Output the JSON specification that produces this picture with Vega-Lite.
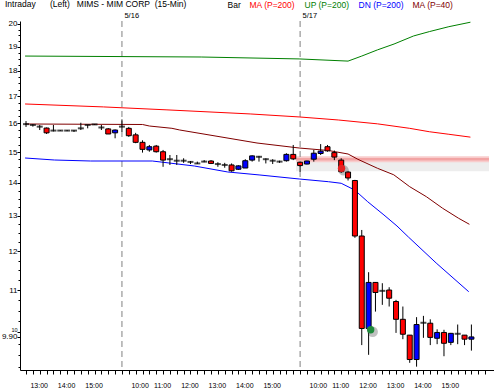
{
  "$schema": "https://vega.github.io/schema/vega-lite/v6.json",
  "width": 474,
  "height": 349,
  "autosize": "none",
  "padding": {"left": 20, "top": 21, "right": 0, "bottom": 21},
  "background": "white",
  "config": {
    "view": {"stroke": null},
    "font": "Liberation Sans",
    "axis": {"grid": false, "domainColor": "black", "tickColor": "black", "labelColor": "black", "labelFont": "Liberation Sans"}
  },
  "title": {
    "text": "Intraday\u00a0\u00a0\u00a0\u00a0\u00a0\u00a0(Left)\u00a0\u00a0\u00a0MIMS - MIM CORP\u00a0\u00a0(15-Min)",
    "anchor": "start",
    "frame": "group",
    "dx": -15,
    "dy": 10,
    "offset": 3,
    "fontSize": 8.5,
    "fontWeight": "normal",
    "font": "Liberation Sans",
    "color": "black"
  },
  "datasets": {
    "candles": [
      {"k":0,"open":15.97,"high":16.08,"low":15.87,"close":15.97},
      {"k":1,"open":15.94,"high":15.97,"low":15.88,"close":15.94},
      {"k":2,"open":15.88,"high":15.94,"low":15.76,"close":15.88},
      {"k":3,"open":15.83,"high":15.85,"low":15.62,"close":15.66},
      {"k":4,"open":15.74,"high":15.94,"low":15.71,"close":15.74},
      {"k":5,"open":15.74,"high":15.76,"low":15.73,"close":15.74},
      {"k":6,"open":15.74,"high":15.76,"low":15.72,"close":15.74},
      {"k":7,"open":15.74,"high":15.76,"low":15.69,"close":15.74},
      {"k":8,"open":15.82,"high":16.02,"low":15.76,"close":15.82},
      {"k":9,"open":15.94,"high":15.94,"low":15.82,"close":15.94},
      {"k":10,"open":15.96,"high":15.97,"low":15.94,"close":15.96},
      {"k":11,"open":15.85,"high":15.94,"low":15.76,"close":15.85},
      {"k":12,"open":15.80,"high":15.83,"low":15.62,"close":15.62},
      {"k":13,"open":15.66,"high":15.78,"low":15.47,"close":15.76},
      {"k":14,"open":15.88,"high":16.14,"low":15.70,"close":15.88},
      {"k":15,"open":15.82,"high":15.87,"low":15.52,"close":15.56},
      {"k":16,"open":15.59,"high":15.66,"low":15.30,"close":15.33},
      {"k":17,"open":15.33,"high":15.40,"low":14.98,"close":15.09},
      {"k":18,"open":15.07,"high":15.24,"low":15.01,"close":15.18},
      {"k":19,"open":15.20,"high":15.24,"low":14.98,"close":15.01},
      {"k":20,"open":15.01,"high":15.07,"low":14.51,"close":14.73},
      {"k":21,"open":14.76,"high":14.90,"low":14.57,"close":14.76},
      {"k":22,"open":14.71,"high":14.90,"low":14.57,"close":14.71},
      {"k":23,"open":14.71,"high":14.79,"low":14.64,"close":14.71},
      {"k":24,"open":14.67,"high":14.70,"low":14.60,"close":14.67},
      {"k":25,"open":14.62,"high":14.68,"low":14.60,"close":14.62},
      {"k":26,"open":14.68,"high":14.73,"low":14.66,"close":14.68},
      {"k":27,"open":14.70,"high":14.73,"low":14.60,"close":14.62},
      {"k":28,"open":14.60,"high":14.66,"low":14.51,"close":14.60},
      {"k":29,"open":14.57,"high":14.64,"low":14.48,"close":14.57},
      {"k":30,"open":14.57,"high":14.62,"low":14.35,"close":14.38},
      {"k":31,"open":14.43,"high":14.56,"low":14.41,"close":14.54},
      {"k":32,"open":14.47,"high":14.76,"low":14.47,"close":14.71},
      {"k":33,"open":14.73,"high":14.89,"low":14.68,"close":14.87},
      {"k":34,"open":14.84,"high":14.87,"low":14.68,"close":14.84},
      {"k":35,"open":14.76,"high":14.79,"low":14.62,"close":14.76},
      {"k":36,"open":14.71,"high":14.76,"low":14.60,"close":14.71},
      {"k":37,"open":14.68,"high":14.71,"low":14.64,"close":14.68},
      {"k":38,"open":14.71,"high":14.96,"low":14.68,"close":14.92},
      {"k":39,"open":14.92,"high":15.24,"low":14.73,"close":14.77},
      {"k":40,"open":14.66,"high":14.67,"low":14.35,"close":14.55},
      {"k":41,"open":14.60,"high":14.71,"low":14.59,"close":14.70},
      {"k":42,"open":14.76,"high":15.07,"low":14.68,"close":14.96},
      {"k":43,"open":14.95,"high":15.27,"low":14.90,"close":15.03},
      {"k":44,"open":15.18,"high":15.24,"low":15.01,"close":15.04},
      {"k":45,"open":14.98,"high":15.05,"low":14.73,"close":14.83},
      {"k":46,"open":14.73,"high":14.79,"low":14.31,"close":14.35},
      {"k":47,"open":14.34,"high":14.37,"low":14.07,"close":14.15},
      {"k":48,"open":14.07,"high":14.09,"low":12.37,"close":12.42},
      {"k":49,"open":12.42,"high":12.59,"low":9.72,"close":10.09},
      {"k":50,"open":10.09,"high":11.45,"low":9.51,"close":11.19},
      {"k":51,"open":11.19,"high":11.20,"low":10.48,"close":10.94},
      {"k":52,"open":10.98,"high":11.17,"low":10.64,"close":10.98},
      {"k":53,"open":11.00,"high":11.07,"low":10.60,"close":10.80},
      {"k":54,"open":10.72,"high":10.76,"low":9.99,"close":10.30},
      {"k":55,"open":10.30,"high":10.60,"low":9.85,"close":9.96},
      {"k":56,"open":9.94,"high":9.94,"low":9.34,"close":9.41},
      {"k":57,"open":9.41,"high":10.35,"low":9.26,"close":10.18},
      {"k":58,"open":10.22,"high":10.38,"low":9.88,"close":10.22},
      {"k":59,"open":10.21,"high":10.30,"low":9.72,"close":9.89},
      {"k":60,"open":9.87,"high":10.07,"low":9.74,"close":10.00},
      {"k":61,"open":10.00,"high":10.06,"low":9.48,"close":9.76},
      {"k":62,"open":9.78,"high":9.99,"low":9.72,"close":9.98},
      {"k":63,"open":9.97,"high":10.18,"low":9.74,"close":9.97},
      {"k":64,"open":9.94,"high":9.94,"low":9.72,"close":9.85},
      {"k":65,"open":9.85,"high":10.18,"low":9.60,"close":9.90}
    ],
    "lines": [
      {"series":"UP (P=200)","k":-0.14,"price":18.61},
      {"series":"UP (P=200)","k":25.57,"price":18.57},
      {"series":"UP (P=200)","k":39.86,"price":18.49},
      {"series":"UP (P=200)","k":47.0,"price":18.40},
      {"series":"UP (P=200)","k":49.0,"price":18.61},
      {"series":"UP (P=200)","k":51.29,"price":18.87},
      {"series":"UP (P=200)","k":53.71,"price":19.12},
      {"series":"UP (P=200)","k":56.57,"price":19.47},
      {"series":"UP (P=200)","k":58.86,"price":19.66},
      {"series":"UP (P=200)","k":61.71,"price":19.88},
      {"series":"UP (P=200)","k":64.86,"price":20.08},
      {"series":"MA (P=200)","k":-0.14,"price":16.71},
      {"series":"MA (P=200)","k":11.29,"price":16.60},
      {"series":"MA (P=200)","k":20.57,"price":16.49},
      {"series":"MA (P=200)","k":32.71,"price":16.34},
      {"series":"MA (P=200)","k":39.86,"price":16.23},
      {"series":"MA (P=200)","k":45.57,"price":16.12},
      {"series":"MA (P=200)","k":51.29,"price":15.98},
      {"series":"MA (P=200)","k":56.0,"price":15.82},
      {"series":"MA (P=200)","k":58.86,"price":15.70},
      {"series":"MA (P=200)","k":61.71,"price":15.61},
      {"series":"MA (P=200)","k":64.86,"price":15.51},
      {"series":"MA (P=40)","k":-0.14,"price":15.975},
      {"series":"MA (P=40)","k":17.0,"price":15.957},
      {"series":"MA (P=40)","k":18.0,"price":15.903},
      {"series":"MA (P=40)","k":21.29,"price":15.821},
      {"series":"MA (P=40)","k":22.43,"price":15.761},
      {"series":"MA (P=40)","k":33.71,"price":15.307},
      {"series":"MA (P=40)","k":39.86,"price":15.136},
      {"series":"MA (P=40)","k":44.14,"price":15.051},
      {"series":"MA (P=40)","k":47.0,"price":14.933},
      {"series":"MA (P=40)","k":48.43,"price":14.757},
      {"series":"MA (P=40)","k":51.29,"price":14.462},
      {"series":"MA (P=40)","k":53.67,"price":14.252},
      {"series":"MA (P=40)","k":56.0,"price":13.875},
      {"series":"MA (P=40)","k":58.43,"price":13.567},
      {"series":"MA (P=40)","k":60.81,"price":13.218},
      {"series":"MA (P=40)","k":63.14,"price":12.924},
      {"series":"MA (P=40)","k":64.71,"price":12.751},
      {"series":"DN (P=200)","k":-0.14,"price":14.80},
      {"series":"DN (P=200)","k":4.14,"price":14.733},
      {"series":"DN (P=200)","k":9.43,"price":14.70},
      {"series":"DN (P=200)","k":18.43,"price":14.70},
      {"series":"DN (P=200)","k":20.86,"price":14.635},
      {"series":"DN (P=200)","k":24.57,"price":14.536},
      {"series":"DN (P=200)","k":29.43,"price":14.342},
      {"series":"DN (P=200)","k":34.14,"price":14.245},
      {"series":"DN (P=200)","k":39.86,"price":14.118},
      {"series":"DN (P=200)","k":44.14,"price":14.032},
      {"series":"DN (P=200)","k":46.0,"price":13.982},
      {"series":"DN (P=200)","k":47.96,"price":13.773},
      {"series":"DN (P=200)","k":49.86,"price":13.416},
      {"series":"DN (P=200)","k":52.24,"price":13.021},
      {"series":"DN (P=200)","k":54.14,"price":12.703},
      {"series":"DN (P=200)","k":55.81,"price":12.392},
      {"series":"DN (P=200)","k":59.86,"price":11.689},
      {"series":"DN (P=200)","k":64.61,"price":10.959}
    ],
    "seps": [{"k":14,"date":"5/16"},{"k":40,"date":"5/17"}],
    "band": [{"from":39.4,"to":67.57,"level":14.76}],
    "signals": [{"k":46.05,"price":14.46,"side":"sell"},{"k":50.3,"price":10.06,"side":"buy"}]
  },
  "resolve": {"axis": {"x": "independent"}},
  "layer": [
    {
      "data": {"name": "band"},
      "mark": {"type": "rule", "strokeWidth": 10, "color": "#000000", "opacity": 0.07, "yOffset": 7},
      "encoding": {
        "x": {"field": "from", "type": "quantitative", "title": null, "axis": null, "scale": {"domain": [-0.15, 67.57], "nice": false, "zero": false}},
        "x2": {"field": "to"},
        "y": {"field": "level", "type": "quantitative", "title": null, "scale": {"type": "log", "domain": [9.191, 20.135], "nice": false}}
      }
    },
    {
      "data": {"name": "band"},
      "mark": {"type": "rule", "strokeWidth": 6, "color": "#f8cccc"},
      "encoding": {
        "x": {"field": "from", "type": "quantitative", "title": null, "axis": null, "scale": {"domain": [-0.15, 67.57], "nice": false, "zero": false}},
        "x2": {"field": "to"},
        "y": {"field": "level", "type": "quantitative", "title": null, "scale": {"type": "log", "domain": [9.191, 20.135], "nice": false}}
      }
    },
    {
      "data": {"name": "band"},
      "mark": {"type": "rule", "strokeWidth": 2.5, "color": "#f2a4a4"},
      "encoding": {
        "x": {"field": "from", "type": "quantitative", "title": null, "axis": null, "scale": {"domain": [-0.15, 67.57], "nice": false, "zero": false}},
        "x2": {"field": "to"},
        "y": {"field": "level", "type": "quantitative", "title": null, "scale": {"type": "log", "domain": [9.191, 20.135], "nice": false}}
      }
    },
    {
      "data": {"name": "seps"},
      "mark": {"type": "rule", "color": "#808080", "strokeWidth": 1, "strokeDash": [6, 4]},
      "encoding": {
        "x": {
          "field": "k", "type": "quantitative", "title": null,
          "scale": {"domain": [-0.15, 67.57], "nice": false, "zero": false},
          "axis": {
            "orient": "top", "values": [14, 40], "domain": false, "ticks": false,
            "labelExpr": "datum.value == 14 ? '5/16' : '5/17'",
            "labelAlign": "left", "labelOffset": 2, "labelPadding": 4,
            "labelBaseline": "alphabetic", "labelFontSize": 7.5, "labelFont": "Liberation Sans",
            "labelFlush": false, "labelOverlap": false
          }
        }
      }
    },
    {
      "data": {"name": "lines"},
      "mark": {"type": "line", "strokeWidth": 1},
      "encoding": {
        "x": {"field": "k", "type": "quantitative", "title": null, "axis": null, "scale": {"domain": [-0.15, 67.57], "nice": false, "zero": false}},
        "y": {"field": "price", "type": "quantitative", "title": null, "scale": {"type": "log", "domain": [9.191, 20.135], "nice": false}},
        "color": {
          "field": "series", "type": "nominal",
          "scale": {"domain": ["Bar", "MA (P=200)", "UP (P=200)", "DN (P=200)", "MA (P=40)"], "range": ["#000000", "#ff0000", "#008000", "#0000ff", "#800000"]},
          "legend": {
            "orient": "none", "legendX": 199, "legendY": -20, "direction": "horizontal",
            "title": null, "symbolSize": 1, "symbolOpacity": 0, "symbolStrokeWidth": 0,
            "labelOffset": 0, "columnPadding": 0, "padding": 0,
            "labelFontSize": 8.5, "labelFont": "Liberation Sans",
            "labelColor": {"expr": "datum.label == 'MA (P=200)' ? '#ff0000' : datum.label == 'UP (P=200)' ? '#008000' : datum.label == 'DN (P=200)' ? '#0000ff' : datum.label == 'MA (P=40)' ? '#800000' : '#000000'"}
          }
        }
      }
    },
    {
      "data": {"name": "candles"},
      "mark": {"type": "rule", "color": "black", "strokeWidth": 1},
      "encoding": {
        "x": {
          "field": "k", "type": "quantitative", "title": null,
          "scale": {"domain": [-0.15, 67.57], "nice": false, "zero": false},
          "axis": {
            "orient": "bottom",
            "values": [0,1,2,3,4,5,6,7,8,9,10,11,12,13,14,15,16,17,18,19,20,21,22,23,24,25,26,27,28,29,30,31,32,33,34,35,36,37,38,39,40,41,42,43,44,45,46,47,48,49,50,51,52,53,54,55,56,57,58,59,60,61,62,63,64,65,66,67],
            "labelExpr": "indexof([2,6,10,16,20,24,28,32,36,42,46,50,54,58,62], datum.value) < 0 ? '' : ['13:00','14:00','15:00','10:00','11:00','12:00','13:00','14:00','15:00','10:00','11:00','12:00','13:00','14:00','15:00'][indexof([2,6,10,16,20,24,28,32,36,42,46,50,54,58,62], datum.value)]",
            "labelOffset": {"condition": {"test": "datum.value == 16 || datum.value == 42", "value": 4}, "value": -1},
            "tickSize": 4, "labelPadding": 7, "labelFontSize": 7, "labelFont": "Liberation Sans",
            "labelFlush": false, "labelOverlap": false, "labelBound": false, "domainColor": "black"
          }
        },
        "y": {
          "field": "low", "type": "quantitative", "title": null,
          "scale": {"type": "log", "domain": [9.191, 20.135], "nice": false},
          "axis": {
            "orient": "left",
            "values": [9.25,9.5,9.75,9.9,10,10.25,10.5,10.75,11,11.25,11.5,11.75,12,12.25,12.5,12.75,13,13.25,13.5,13.75,14,14.25,14.5,14.75,15,15.25,15.5,15.75,16,16.25,16.5,16.75,17,17.25,17.5,17.75,18,18.25,18.5,18.75,19,19.25,19.5,19.75,20],
            "labelExpr": "datum.value == 9.9 ? '9.90' : (datum.value == floor(datum.value) ? '' + datum.value : '')",
            "labelBaseline": {"condition": {"test": "datum.value == 10", "value": "bottom"}, "value": "middle"},
            "labelFontSize": {"condition": {"test": "datum.value == 10", "value": 5.5}, "value": 8},
            "tickSize": {"condition": {"test": "datum.value == floor(datum.value) || datum.value == 9.9", "value": 3}, "value": 2},
            "labelPadding": 0, "labelFont": "Liberation Sans",
            "labelOverlap": false, "labelFlush": false, "labelBound": false, "domainColor": "black"
          }
        },
        "y2": {"field": "high"}
      }
    },
    {
      "data": {"name": "candles"},
      "transform": [{"filter": "datum.open != datum.close"}],
      "mark": {"type": "bar", "size": 5, "stroke": "black", "strokeWidth": 1},
      "encoding": {
        "x": {"field": "k", "type": "quantitative", "title": null, "axis": null, "scale": {"domain": [-0.15, 67.57], "nice": false, "zero": false}},
        "y": {"field": "open", "type": "quantitative", "title": null, "scale": {"type": "log", "domain": [9.191, 20.135], "nice": false}},
        "y2": {"field": "close"},
        "fill": {"condition": {"test": "datum.close > datum.open", "value": "#0000ff"}, "value": "#ff0000"}
      }
    },
    {
      "data": {"name": "candles"},
      "transform": [{"filter": "datum.open == datum.close"}],
      "mark": {"type": "tick", "orient": "horizontal", "size": 6, "thickness": 2, "color": "black"},
      "encoding": {
        "x": {"field": "k", "type": "quantitative", "title": null, "axis": null, "scale": {"domain": [-0.15, 67.57], "nice": false, "zero": false}},
        "y": {"field": "open", "type": "quantitative", "title": null, "scale": {"type": "log", "domain": [9.191, 20.135], "nice": false}}
      }
    },
    {
      "data": {"name": "signals"},
      "mark": {"type": "point", "filled": true, "size": 110, "color": "#333333", "opacity": 0.3, "xOffset": 2, "yOffset": 2},
      "encoding": {
        "x": {"field": "k", "type": "quantitative", "title": null, "axis": null, "scale": {"domain": [-0.15, 67.57], "nice": false, "zero": false}},
        "y": {"field": "price", "type": "quantitative", "title": null, "scale": {"type": "log", "domain": [9.191, 20.135], "nice": false}}
      }
    },
    {
      "data": {"name": "signals"},
      "mark": {"type": "point", "filled": true, "size": 55, "opacity": 1},
      "encoding": {
        "x": {"field": "k", "type": "quantitative", "title": null, "axis": null, "scale": {"domain": [-0.15, 67.57], "nice": false, "zero": false}},
        "y": {"field": "price", "type": "quantitative", "title": null, "scale": {"type": "log", "domain": [9.191, 20.135], "nice": false}},
        "fill": {"condition": {"test": "datum.side == 'buy'", "value": "#1f8a3c"}, "value": "#e32222"}
      }
    }
  ]
}
